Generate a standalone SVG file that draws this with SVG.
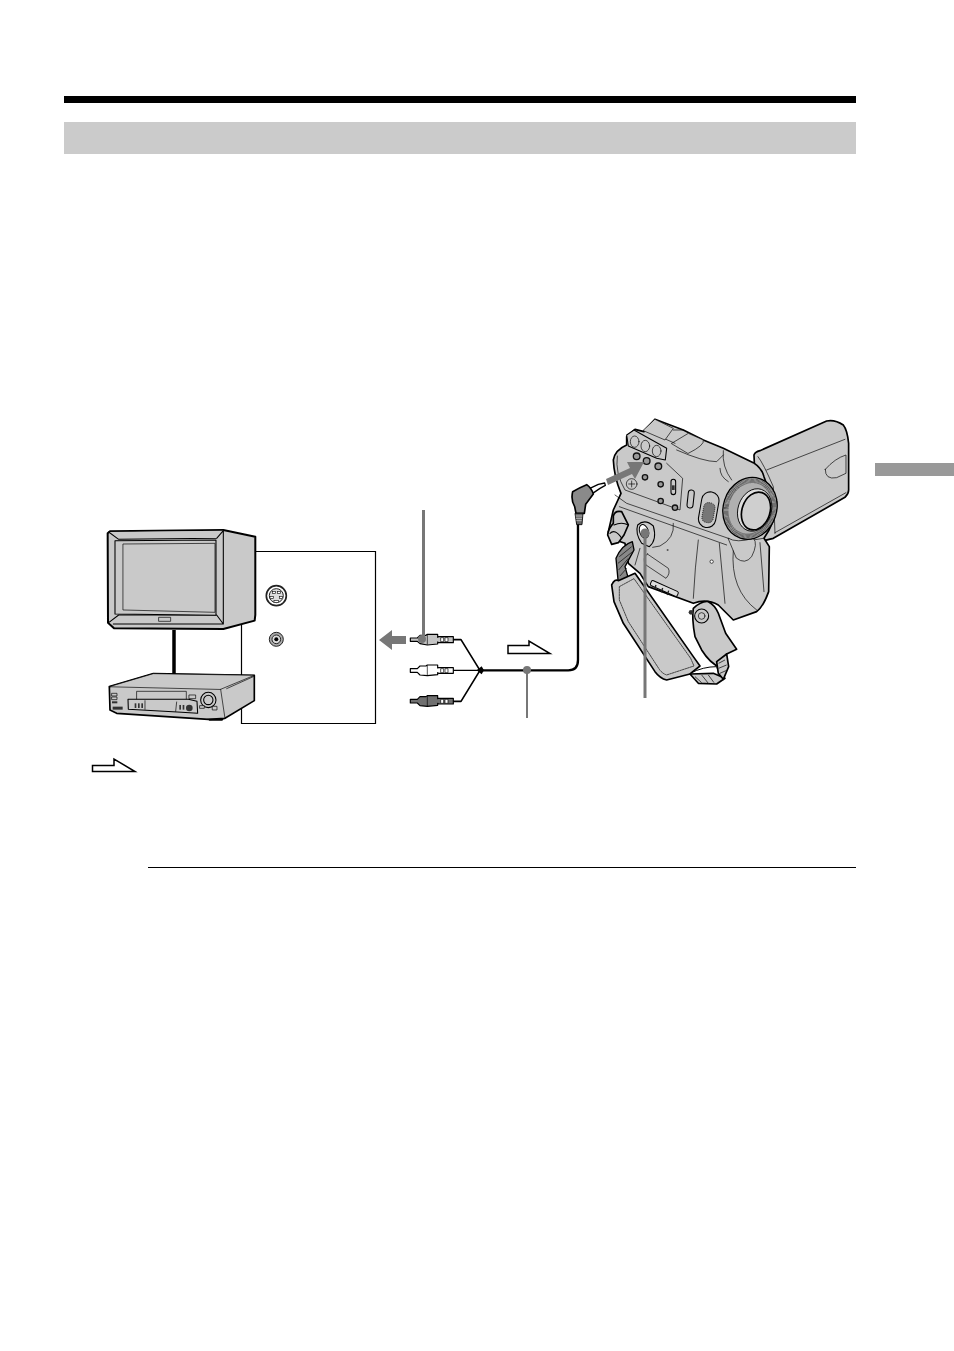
<svg xmlns="http://www.w3.org/2000/svg" width="954" height="1351" viewBox="0 0 954 1351">
<style>
.o{stroke:#000;stroke-linejoin:round;stroke-linecap:round;fill:#c9c9c9}
.t{stroke-width:5;}
.m{stroke-width:3.2;}
.f{stroke-width:2;}
.n{fill:none}
.d{fill:#333}
.p{fill:#9a9a9a;stroke:#111;stroke-width:4}
</style>
<rect width="954" height="1351" fill="#fff"/>
<g id="page-furniture">
<rect x="64" y="96" width="792" height="7" fill="#000"/>
<rect x="64" y="122" width="792" height="32" fill="#cbcbcb"/>
<rect x="875" y="463" width="79" height="13" fill="#999"/>
<rect x="148" y="867" width="708" height="1" fill="#000"/>
</g>

<g id="panel">
<path d="M256 551.500H375.500V723.500H241.500V625" fill="none" stroke="#000" stroke-width="1.200"/>
<g transform="translate(60,500) scale(.3333)">
<circle cx="649" cy="287" r="30" fill="#fff" stroke="#222" stroke-width="5"/>
<circle cx="649" cy="287" r="21" fill="#ddd" stroke="#222" stroke-width="3"/>
<rect x="637" y="274" width="10" height="7" fill="#fff" stroke="#111" stroke-width="2"/><rect x="652" y="274" width="10" height="7" fill="#fff" stroke="#111" stroke-width="2"/>
<rect x="630" y="289" width="10" height="7" fill="#fff" stroke="#111" stroke-width="2"/><rect x="658" y="289" width="10" height="7" fill="#fff" stroke="#111" stroke-width="2"/>
<rect x="642" y="301" width="14" height="7" fill="#fff" stroke="#111" stroke-width="2"/>
<circle cx="649" cy="418" r="21" fill="#aaa" stroke="#222" stroke-width="3"/>
<circle cx="649" cy="418" r="13" fill="#ddd" stroke="#222" stroke-width="3"/>
<circle cx="649" cy="418" r="6" fill="#000"/>
</g>
</g>

<g id="tv" transform="translate(60,500) scale(.3333)">
<path class="o" stroke-width="6" d="M150 94L490 90L586 110V345L584 362L490 387L162 385L144 368L143 100Z"/>
<path class="o m" d="M490 92V372M146 96L176 118L470 115L490 92M146 368L176 345L470 345L490 372L160 372"/>
<path class="o m" d="M165 122L468 120V346L165 342Z"/>
<path class="o f" d="M190 132L465 130V337L190 330Z"/>
<rect x="297" y="352" width="35" height="12" class="o f" fill="#ddd"/>
</g>

<g id="vcr" transform="translate(60,500) scale(.3333)">
<path class="o t" d="M148 560L280 521L583 526V602L495 655L445 658L170 640L150 630Z"/>
<path class="o f" fill="#d8d8d8" d="M148 560L280 521L583 526L482 568Z"/>
<path class="o f n" d="M482 568L495 655M500 566L580 530"/>
<rect x="231" y="574" width="148" height="27" class="o f" fill="#ddd"/>
<path class="o m" fill="#ddd" d="M204 598H385L411 604L413 640L352 636L205 628Z"/>
<path class="o f n" d="M255 602V628M350 606L347 634"/>
<rect x="156" y="580" width="15" height="8" class="o f"/><rect x="156" y="591" width="15" height="8" class="o f"/>
<rect x="156" y="604" width="16" height="6" class="d"/><rect x="158" y="620" width="30" height="9" class="d"/>
<rect x="224" y="610" width="5" height="14" class="d"/><rect x="234" y="610" width="5" height="14" class="d"/><rect x="244" y="610" width="5" height="14" class="d"/>
<rect x="358" y="615" width="5" height="14" class="d"/><rect x="368" y="615" width="5" height="14" class="d"/>
<circle cx="388" cy="624" r="10" class="d"/>
<rect x="388" y="585" width="19" height="11" class="o f" fill="#ddd"/>
<circle cx="445" cy="600" r="23" class="o m" fill="#eee"/><circle cx="445" cy="600" r="14" class="o m"/>
<rect x="420" y="617" width="13" height="8" class="o f"/><rect x="458" y="619" width="13" height="11" class="o f"/>
<path d="M442 656H492L487 662H448Z" fill="#000"/>
</g>

<g id="connectors">
<g transform="translate(370,500) scale(.3333)" fill="none" stroke="#000" stroke-linejoin="round" stroke-linecap="round">
<path d="M250 419H273L330 511" stroke-width="5"/>
<path d="M250 511H330" stroke-width="4"/>
<path d="M250 604H273L330 511" stroke-width="5"/>
<path d="M330 511H595Q624 511 624 480V60" stroke-width="7"/>
<path d="M320 511L335 499L342 511L335 523Z" fill="#000" stroke="none"/>
</g>
<path d="M174 630V674" stroke="#000" stroke-width="3.500" fill="none"/>
</g>

<g id="cable-plugs" transform="translate(370,500) scale(.3333)" stroke="#000" stroke-linejoin="round">
<g stroke-width="3.500">
<path d="M121 414H142L150 406H168L172 403H203V412L206 410H250V428H206L203 426V432L172 435L150 431L142 424H121Z" fill="#c4c4c4"/>
<path d="M121 506H142L150 498H168L172 495H203V504L206 503H250V520H206L203 518V524L172 527L150 525L142 517H121Z" fill="#fff"/>
<path d="M121 598H142L150 590H168L172 587H203V596L206 595H250V612H206L203 610V616L172 619L150 617L142 609H121Z" fill="#707070"/>
</g>
<g fill="#fff" stroke-width="2"><rect x="212" y="413" width="9" height="12"/><rect x="225" y="413" width="9" height="12"/><rect x="212" y="506" width="9" height="12"/><rect x="225" y="506" width="9" height="12"/><rect x="212" y="598" width="9" height="12"/><rect x="225" y="598" width="9" height="12"/></g>
<path fill="none" stroke-width="2" d="M172 404V434M172 496V526M172 588V618"/>
</g>

<g id="camera" transform="translate(560,410) scale(.3333)">
<path class="o t" d="M582 135Q585 126 600 122L800 33Q825 28 850 45Q862 60 866 100V240Q866 252 855 262L640 385L612 392L585 200Z"/>
<path class="o f n" d="M594 140Q610 160 640 230L645 370M620 180L855 88M645 368L858 248"/>
<path class="o f" d="M796 178Q825 145 858 135V190L830 203Q795 210 796 178Z"/>
<path class="o t" d="M200 80L225 58L252 65L285 28L370 60L430 90L490 115L580 158Q606 175 612 200L628 245L650 275Q650 330 612 385L628 410L626 545Q610 590 590 605L520 630L475 585Q440 565 400 580L265 530L240 490L205 460L195 400L150 385L145 365L160 300L183 250Q162 200 160 150Q165 120 200 105Z"/>
<path class="o f n" d="M165 255L200 280L505 385Q520 390 520 400L610 385M178 290L500 405M415 390Q405 470 400 565M478 400L495 580M520 420Q510 540 590 600M600 398L612 545M490 122Q485 170 515 210M350 120Q430 155 470 155L490 135M480 175Q480 200 505 215"/>
<path class="o f" fill="#a4a4a4" d="M335 100L385 70L430 90Q435 105 385 130Z"/>
<path class="o f" d="M285 28L340 55L315 90L250 62Z"/>
<path class="o f n" d="M318 88L345 100M340 60L370 60"/>
<path class="o f n" d="M172 138Q165 190 195 240L360 300L368 205L320 160"/>
<path class="o m" d="M200 75L222 60L320 115L316 150L290 145L205 108Z"/>
<ellipse cx="224" cy="95" rx="13" ry="17" class="o f"/><ellipse cx="256" cy="108" rx="13" ry="17" class="o f"/><ellipse cx="290" cy="123" rx="13" ry="17" class="o f"/>
<circle cx="230" cy="139" r="10" class="p"/><circle cx="260" cy="153" r="10" class="p"/><circle cx="295" cy="169" r="10" class="p"/>
<circle cx="255" cy="202" r="8" class="p"/><circle cx="302" cy="223" r="8" class="p"/><circle cx="302" cy="273" r="8" class="p"/><circle cx="345" cy="293" r="8" class="p"/>
<circle cx="215" cy="222" r="16" class="o f n"/><path d="M206 222H224M215 213V231" class="o f n"/>
<rect x="333" y="208" width="14" height="46" rx="7" class="o m" fill="#eee"/><rect x="336" y="226" width="8" height="14" class="d"/>
<rect x="383" y="240" width="18" height="54" rx="9" class="o m" fill="#ddd" transform="rotate(6 392 267)"/>
<rect x="420" y="245" width="52" height="108" rx="26" class="o m" transform="rotate(10 445 300)"/>
<rect x="428" y="278" width="34" height="60" rx="14" fill="#777" stroke="#000" stroke-width="2" stroke-dasharray="3 3" transform="rotate(10 445 310)"/>
<path class="o f" d="M505 385Q530 400 580 385Q595 400 575 440Q555 465 530 445Z"/>
<ellipse cx="570" cy="295" rx="80" ry="94" transform="rotate(18 570 295)" fill="#b0b0b0" stroke="#000" stroke-width="4"/>
<ellipse cx="570" cy="295" rx="70" ry="84" transform="rotate(18 570 295)" fill="none" stroke="#333" stroke-width="14" stroke-dasharray="1.500 2"/>
<ellipse cx="584" cy="300" rx="50" ry="65" transform="rotate(18 584 300)" fill="#ddd" stroke="#000" stroke-width="2.500"/>
<ellipse cx="588" cy="303" rx="42" ry="58" transform="rotate(18 588 303)" fill="#cfcfcf" stroke="#000" stroke-width="5"/>
<path class="o m" d="M233 345Q255 325 280 348Q292 390 268 410L245 400Q225 370 233 345Z"/>
<ellipse cx="252" cy="364" rx="13" ry="21" fill="#fff" stroke="#000" stroke-width="3" transform="rotate(-20 252 364)"/>
<path class="o f n" d="M340 340Q345 385 300 408L278 412M240 415L225 465"/>
<path class="o f" d="M262 432L325 475Q332 490 318 505L258 465Q245 445 262 432Z"/>
<rect x="270" y="527" width="88" height="16" fill="#ddd" stroke="#000" stroke-width="3" rx="5" transform="rotate(24 312 533)"/>
<path d="M288 525L284 538M308 534L304 547M326 542L322 555" stroke="#222" stroke-width="4"/>
<circle cx="323" cy="420" r="3" fill="#555"/><circle cx="455" cy="455" r="5" fill="#fff" stroke="#000" stroke-width="2"/>
<path class="o t" d="M160 318Q165 300 185 305L205 345L192 375L175 398L155 403L143 375Q145 355 160 340Z" fill="#aaa"/>
<path class="o m n" d="M162 345Q185 335 205 345M150 370Q165 355 185 385"/>
<path d="M168 445Q185 405 217 395L222 420L195 470L205 505L175 520Z" fill="#888" stroke="#000" stroke-width="4" stroke-linejoin="round"/>
<path d="M178 440L215 410M174 460L218 425M176 480L205 445M180 498L200 475" stroke="#222" stroke-width="2.500"/>
</g>

<g id="strap" transform="translate(560,410) scale(.3333)">
<path class="o t" d="M400 595Q425 572 445 575Q465 585 475 610L497 670L530 718L500 732L480 772Q450 760 425 720L405 680Q395 625 400 595Z"/>
<circle cx="425" cy="618" r="21" class="o m"/><circle cx="425" cy="618" r="10" class="o f" fill="#eee"/>
<circle cx="393" cy="607" r="7" fill="#333"/>
<path d="M390 790Q430 770 470 770L480 800" fill="none" stroke="#000" stroke-width="3"/>
<path class="o t" d="M155 525Q165 505 175 512L225 490L400 740L420 768L390 792L320 810Q300 805 285 785L190 640L162 575Z"/>
<path class="o f n" d="M178 530L222 506L392 745L402 768L320 795Q305 790 296 775L205 635L178 570Z" stroke-dasharray="5 3"/>
<path class="o t" d="M390 792L415 820L470 822L495 805L460 790Z" fill="#999"/>
<path class="o t" d="M470 755L500 732L506 770L490 808L475 790Z" fill="#aaa"/>
<path d="M405 800L425 818M425 795L445 820M445 795L462 818M476 760L495 750M476 775L500 765M480 790L498 782" stroke="#222" stroke-width="2.500"/>
</g>

<g id="jack" transform="translate(560,410) scale(.3333)">
<path d="M88 236L115 223L134 219L136 226L120 235L98 250Z" fill="#fff" stroke="#000" stroke-width="4" stroke-linejoin="round"/>
<path d="M38 245Q60 232 80 224Q95 235 100 252Q85 272 77 283L73 310H48L44 290Q32 270 38 245Z" fill="#8a8a8a" stroke="#000" stroke-width="5" stroke-linejoin="round"/>
<path d="M45 310H69L66 344H50Z" fill="#666" stroke="#000" stroke-width="2.500"/>
<path d="M47 318H67M48 325H66M49 332H65" stroke="#ddd" stroke-width="2"/>
</g>

<g id="grey-arrows-and-leaders">
<path d="M406 636H392V630L379 640L392 650V644H406Z" fill="#777"/>
<path d="M606 479L630 468L627 462L644 462L635 479L632 474L608 485Z" fill="#777"/>
<path d="M423.500 510V636" stroke="#777" stroke-width="3" fill="none"/>
<circle cx="422" cy="639" r="4" fill="#777"/>
<path d="M527 670V718" stroke="#777" stroke-width="2" fill="none"/>
<circle cx="527" cy="670" r="4" fill="#777"/>
<path d="M645 534V698" stroke="#777" stroke-width="3" fill="none"/>
<circle cx="645" cy="533" r="4.500" fill="#777"/>
</g>

<g id="signal-arrows" fill="#fff" stroke="#000" stroke-width="1.500">
<path d="M508 645.500H529V641L550 653.500H508Z"/>
<path d="M92.500 765.500H114V759L135 771.500H92.500Z"/>
</g>
</svg>
